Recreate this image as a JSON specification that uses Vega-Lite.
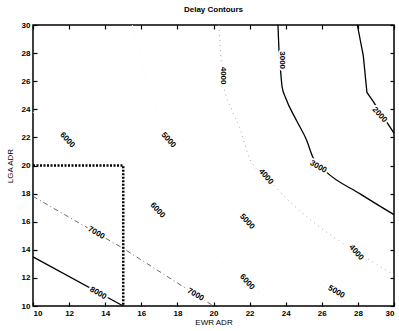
{
  "$schema": "https://vega.github.io/schema/vega-lite/v6.json",
  "width": 361,
  "height": 281,
  "autosize": {"type": "none"},
  "padding": {"left": 33, "top": 25, "right": 5, "bottom": 25},
  "background": "white",
  "title": {"text": "Delay Contours", "fontSize": 8, "font": "Liberation Sans", "fontWeight": "bold", "color": "black", "offset": 7, "anchor": "middle"},
  "config": {
    "view": {"stroke": "black", "strokeWidth": 1.5},
    "axis": {"grid": false, "domain": false, "tickColor": "black", "tickSize": -4, "tickWidth": 1.2, "labelFont": "Liberation Sans", "labelFontSize": 8, "labelFontWeight": "bold", "labelColor": "black", "titleFont": "Liberation Sans", "titleFontSize": 8, "titleFontWeight": "normal", "titleColor": "black"}
  },
  "datasets": {
    "lines": [
      {"line": "8000", "o": 1, "x": 10, "y": 13.5},
      {"line": "8000", "o": 2, "x": 15, "y": 10},
      {"line": "7000", "o": 1, "x": 10, "y": 17.8},
      {"line": "7000", "o": 2, "x": 15, "y": 14.1},
      {"line": "7000", "o": 3, "x": 20, "y": 10},
      {"line": "box", "o": 1, "x": 10, "y": 20},
      {"line": "box", "o": 2, "x": 15, "y": 20},
      {"line": "box", "o": 3, "x": 15, "y": 10},
      {"line": "6000", "o": 1, "x": 10, "y": 23.8},
      {"line": "6000", "o": 2, "x": 11.9, "y": 21.8},
      {"line": "6000", "o": 3, "x": 14.5, "y": 19.2},
      {"line": "6000", "o": 4, "x": 16.9, "y": 16.8},
      {"line": "6000", "o": 5, "x": 19.5, "y": 14.2},
      {"line": "6000", "o": 6, "x": 21.85, "y": 11.7},
      {"line": "6000", "o": 7, "x": 23.5, "y": 10},
      {"line": "5000", "o": 1, "x": 15.5, "y": 30},
      {"line": "5000", "o": 2, "x": 16.3, "y": 26},
      {"line": "5000", "o": 3, "x": 17.5, "y": 21.8},
      {"line": "5000", "o": 4, "x": 19.5, "y": 18.6},
      {"line": "5000", "o": 5, "x": 21.85, "y": 16},
      {"line": "5000", "o": 6, "x": 24.5, "y": 13.2},
      {"line": "5000", "o": 7, "x": 26.8, "y": 10.6},
      {"line": "5000", "o": 8, "x": 27.3, "y": 10},
      {"line": "4000", "o": 1, "x": 20.3, "y": 30},
      {"line": "4000", "o": 2, "x": 20.4, "y": 28},
      {"line": "4000", "o": 3, "x": 20.6, "y": 25.5},
      {"line": "4000", "o": 4, "x": 21, "y": 24},
      {"line": "4000", "o": 5, "x": 21.5, "y": 22.5},
      {"line": "4000", "o": 6, "x": 22, "y": 20.5},
      {"line": "4000", "o": 7, "x": 23, "y": 19.1},
      {"line": "4000", "o": 8, "x": 24, "y": 17.7},
      {"line": "4000", "o": 9, "x": 25.5, "y": 16},
      {"line": "4000", "o": 10, "x": 27, "y": 14.6},
      {"line": "4000", "o": 11, "x": 28.5, "y": 13.4},
      {"line": "4000", "o": 12, "x": 30, "y": 12.2},
      {"line": "3000", "o": 1, "x": 23.57, "y": 30},
      {"line": "3000", "o": 2, "x": 23.63, "y": 28.1},
      {"line": "3000", "o": 3, "x": 23.7, "y": 27},
      {"line": "3000", "o": 4, "x": 23.8, "y": 25.6},
      {"line": "3000", "o": 5, "x": 24.0, "y": 24.8},
      {"line": "3000", "o": 6, "x": 24.6, "y": 23.2},
      {"line": "3000", "o": 7, "x": 25.16, "y": 21.8},
      {"line": "3000", "o": 8, "x": 25.5, "y": 20.6},
      {"line": "3000", "o": 9, "x": 26.2, "y": 19.6},
      {"line": "3000", "o": 10, "x": 28.1, "y": 18},
      {"line": "3000", "o": 11, "x": 30, "y": 16.5},
      {"line": "2000", "o": 1, "x": 27.97, "y": 30},
      {"line": "2000", "o": 2, "x": 28.3, "y": 27.8},
      {"line": "2000", "o": 3, "x": 28.5, "y": 25.2},
      {"line": "2000", "o": 4, "x": 28.77, "y": 24.7},
      {"line": "2000", "o": 5, "x": 30, "y": 22.3}
    ],
    "labels": [
      {"text": "3000", "g": "v", "x": 23.8, "y": 27.5},
      {"text": "4000", "g": "v", "x": 20.5, "y": 26.4},
      {"text": "6000", "g": "d", "x": 11.9, "y": 21.8},
      {"text": "5000", "g": "d", "x": 17.5, "y": 21.8},
      {"text": "6000", "g": "d", "x": 16.9, "y": 16.8},
      {"text": "5000", "g": "d", "x": 21.85, "y": 16.0},
      {"text": "6000", "g": "d", "x": 21.85, "y": 11.7},
      {"text": "4000", "g": "d", "x": 22.9, "y": 19.2},
      {"text": "4000", "g": "d", "x": 27.9, "y": 13.8},
      {"text": "2000", "g": "d", "x": 29.2, "y": 23.6},
      {"text": "7000", "g": "s", "x": 13.5, "y": 15.2},
      {"text": "7000", "g": "s", "x": 19.0, "y": 10.8},
      {"text": "8000", "g": "s", "x": 13.6, "y": 10.9},
      {"text": "5000", "g": "s", "x": 26.8, "y": 11.0},
      {"text": "3000", "g": "s", "x": 25.8, "y": 19.9}
    ]
  },
  "resolve": {"axis": {"x": "independent", "y": "independent"}},
  "layer": [
    {
      "layer": [
        {
          "data": {"name": "lines"},
          "transform": [{"filter": "datum.line === '5000' || datum.line === '6000'"}],
          "mark": {"type": "line", "color": "#f2f2f2", "strokeWidth": 1, "strokeDash": [1, 5]},
          "encoding": {"detail": {"field": "line"}, "order": {"field": "o", "type": "quantitative"}}
        },
        {
          "data": {"name": "lines"},
          "transform": [{"filter": "datum.line === '4000'"}],
          "mark": {"type": "line", "color": "#aaaaaa", "strokeWidth": 1, "strokeDash": [1, 4], "interpolate": "monotone"},
          "encoding": {"order": {"field": "o", "type": "quantitative"}}
        },
        {
          "data": {"name": "lines"},
          "transform": [{"filter": "datum.line === '7000'"}],
          "mark": {"type": "line", "color": "#444444", "strokeWidth": 0.8, "strokeDash": [5, 3, 1, 3]},
          "encoding": {"order": {"field": "o", "type": "quantitative"}}
        },
        {
          "data": {"name": "lines"},
          "transform": [{"filter": "datum.line === 'box'"}],
          "mark": {"type": "line", "color": "black", "strokeWidth": 2.5, "strokeDash": [2, 1.5]},
          "encoding": {"order": {"field": "o", "type": "quantitative"}}
        },
        {
          "data": {"name": "lines"},
          "transform": [{"filter": "datum.line === '8000' || datum.line === '2000'"}],
          "mark": {"type": "line", "color": "black", "strokeWidth": 1.3},
          "encoding": {"detail": {"field": "line"}, "order": {"field": "o", "type": "quantitative"}}
        },
        {
          "data": {"name": "lines"},
          "transform": [{"filter": "datum.line === '3000'"}],
          "mark": {"type": "line", "color": "black", "strokeWidth": 1.3, "interpolate": "monotone"},
          "encoding": {"order": {"field": "o", "type": "quantitative"}}
        },
        {
          "data": {"name": "labels"},
          "transform": [{"filter": "datum.g === 'v'"}],
          "mark": {"type": "text", "angle": 90, "font": "Liberation Sans", "fontSize": 8, "fontWeight": "bold", "color": "white", "stroke": "white", "strokeWidth": 4},
          "encoding": {"text": {"field": "text"}}
        },
        {
          "data": {"name": "labels"},
          "transform": [{"filter": "datum.g === 'd'"}],
          "mark": {"type": "text", "angle": 48, "font": "Liberation Sans", "fontSize": 8, "fontWeight": "bold", "color": "white", "stroke": "white", "strokeWidth": 4},
          "encoding": {"text": {"field": "text"}}
        },
        {
          "data": {"name": "labels"},
          "transform": [{"filter": "datum.g === 's'"}],
          "mark": {"type": "text", "angle": 30, "font": "Liberation Sans", "fontSize": 8, "fontWeight": "bold", "color": "white", "stroke": "white", "strokeWidth": 4},
          "encoding": {"text": {"field": "text"}}
        },
        {
          "data": {"name": "labels"},
          "transform": [{"filter": "datum.g === 'v'"}],
          "mark": {"type": "text", "angle": 90, "font": "Liberation Sans", "fontSize": 8, "fontWeight": "bold", "color": "black"},
          "encoding": {"text": {"field": "text"}}
        },
        {
          "data": {"name": "labels"},
          "transform": [{"filter": "datum.g === 'd'"}],
          "mark": {"type": "text", "angle": 48, "font": "Liberation Sans", "fontSize": 8, "fontWeight": "bold", "color": "black"},
          "encoding": {"text": {"field": "text"}}
        },
        {
          "data": {"name": "labels"},
          "transform": [{"filter": "datum.g === 's'"}],
          "mark": {"type": "text", "angle": 30, "font": "Liberation Sans", "fontSize": 8, "fontWeight": "bold", "color": "black"},
          "encoding": {"text": {"field": "text"}}
        }
      ],
      "encoding": {
        "x": {"field": "x", "type": "quantitative", "scale": {"domain": [10, 30], "nice": false, "zero": false}, "axis": {"title": "EWR ADR", "values": [10, 12, 14, 16, 18, 20, 22, 24, 26, 28, 30], "labelPadding": 7, "titlePadding": 1}},
        "y": {"field": "y", "type": "quantitative", "scale": {"domain": [10, 30], "nice": false, "zero": false}, "axis": {"title": "LGA ADR", "values": [10, 12, 14, 16, 18, 20, 22, 24, 26, 28, 30], "labelPadding": 7, "titlePadding": 7}}
      }
    },
    {
      "data": {"name": "lines"},
      "mark": {"type": "point", "opacity": 0},
      "encoding": {
        "x": {"field": "x", "type": "quantitative", "scale": {"domain": [10, 30], "nice": false, "zero": false}, "axis": {"orient": "top", "labels": false, "title": null, "values": [10, 12, 14, 16, 18, 20, 22, 24, 26, 28, 30]}},
        "y": {"field": "y", "type": "quantitative", "scale": {"domain": [10, 30], "nice": false, "zero": false}, "axis": {"orient": "right", "labels": false, "title": null, "values": [10, 12, 14, 16, 18, 20, 22, 24, 26, 28, 30]}}
      }
    }
  ]
}
